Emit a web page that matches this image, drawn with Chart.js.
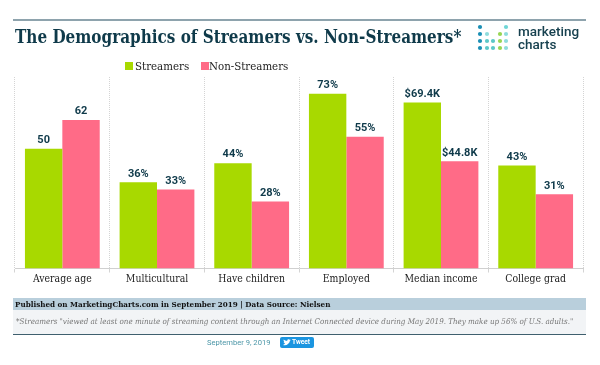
<!DOCTYPE html>
<html>
<head>
<meta charset="utf-8">
<script src="https://cdn.jsdelivr.net/npm/chart.js@4/dist/chart.umd.min.js"></script>
<style>
  body { margin: 0; background: #fff; width: 600px; height: 365px; overflow: hidden; position: relative; font-family: "DejaVu Serif Condensed", serif; }
  .abs { position: absolute; white-space: nowrap; }
  #chart { position: absolute; left: 0; top: 0; }
  #rule { left: 13px; top: 19px; width: 573px; height: 2px; background: #8ea3ad; }
  #title { left: 15px; top: 26px; font: bold 18px "DejaVu Serif Condensed", serif; color: #0f3a4a; transform: scaleX(.94); transform-origin: left; }
  #brand { left: 518px; top: 25px; font: 500 13.5px/13px Roboto, sans-serif; color: #17414f; white-space: pre; }
  .key { top: 59px; font: 11.4px "DejaVu Serif Condensed", serif; color: #222; }
  .swatch { width: 8px; height: 8px; top: 62px; }
  #source { left: 13px; top: 298px; width: 571px; height: 12px; padding-left: 2px; background: #b9cfdc; font: bold 8px/12px "DejaVu Serif Condensed", serif; color: #111; }
  #noteBox { left: 13px; top: 310px; width: 573px; height: 24px; background: #f2f4f6; }
  #note { left: 16px; top: 317px; font: italic 7.95px "DejaVu Serif Condensed", serif; color: #777; }
  #lineEnd { left: 13px; top: 334px; width: 573px; height: 1px; background: #3f5f6e; }
  #date { left: 207px; top: 338px; font: 7.6px Roboto, sans-serif; color: #4d97a8; }
  #tweet { left: 280px; top: 337px; width: 34px; height: 11px; border-radius: 2px; background: #1b95e0; color: #fff; font: bold 6.5px/11px Roboto, sans-serif; text-indent: 8px; text-align: center; }
  #bird { left: 283px; top: 339px; }
</style>
</head>
<body>
<canvas id="chart" width="600" height="365"></canvas>
<div class="abs" id="rule"></div>
<div class="abs" id="title">The Demographics of Streamers vs. Non-Streamers*</div>
<svg class="abs" id="dots" style="left:0;top:0" width="600" height="60"></svg>
<div class="abs" id="brand">marketing
charts</div>
<div class="abs swatch" style="left:125px;background:#a8d900"></div>
<div class="abs key" style="left:135px">Streamers</div>
<div class="abs swatch" style="left:201px;background:#ff6b87"></div>
<div class="abs key" style="left:209px">Non-Streamers</div>
<div class="abs" id="noteBox"></div>
<div class="abs" id="source">Published on MarketingCharts.com in September 2019 | Data Source: Nielsen</div>
<div class="abs" id="note">*Streamers "viewed at least one minute of streaming content through an Internet Connected device during May 2019. They make up 56% of U.S. adults."</div>
<div class="abs" id="lineEnd"></div>
<div class="abs" id="date">September 9, 2019</div>
<div class="abs" id="tweet">Tweet</div>
<svg class="abs" id="bird" width="8" height="7" viewBox="0 0 8 7"><path d="M0 6 Q3 7 5 5 Q7 3 7 1.5 L8 1 L7 .8 Q6 0 5 .3 Q4 .8 4.2 2 Q2 2 .6 .6 Q.3 2 1.2 3 L.5 3 Q1 4 2 4.3 Q1.5 5.4 0 6Z" fill="#fff"/></svg>

<script>
var categories = ['Average age', 'Multicultural', 'Have children', 'Employed', 'Median income', 'College grad'];
var streamers = [50, 36, 44, 73, 69.4, 43];
var nonStreamers = [62, 33, 28, 55, 44.8, 31];
var streamersLabels = ['50', '36%', '44%', '73%', '$69.4K', '43%'];
var nonStreamersLabels = ['62', '33%', '28%', '55%', '$44.8K', '31%'];

// logo dots: x, y, colour
var logoDots = [
  [480, 27, '#1b8fb5'], [506, 27, '#6fd6d6'],
  [480, 34, '#1b8fb5'], [487, 34, '#8fdcdc'], [500, 34, '#98d654'], [506, 34, '#8fdcdc'],
  [480, 41, '#1b8fb5'], [487, 41, '#5cc8c8'], [493, 41, '#5cc8c8'], [500, 41, '#98d654'], [506, 41, '#8fdcdc'],
  [480, 48, '#1b8fb5'], [487, 48, '#5cc8c8'], [493, 48, '#5cc8c8'], [500, 48, '#98d654'], [506, 48, '#8fdcdc']
];
var svg = document.getElementById('dots');
logoDots.forEach(function (d) {
  var c = document.createElementNS('http://www.w3.org/2000/svg', 'circle');
  c.setAttribute('cx', d[0]);
  c.setAttribute('cy', d[1]);
  c.setAttribute('r', 2.1);
  c.setAttribute('fill', d[2]);
  svg.appendChild(c);
});

var valueLabels = {
  id: 'valueLabels',
  afterDatasetsDraw: function (chart) {
    var ctx = chart.ctx;
    var texts = [streamersLabels, nonStreamersLabels];
    ctx.save();
    ctx.font = 'bold 11px Roboto, sans-serif';
    ctx.fillStyle = '#0f3a4a';
    ctx.textAlign = 'center';
    ctx.textBaseline = 'bottom';
    chart.data.datasets.forEach(function (ds, i) {
      chart.getDatasetMeta(i).data.forEach(function (bar, j) {
        ctx.fillText(texts[i][j], bar.x, bar.y - 3);
      });
    });
    ctx.restore();
  }
};

new Chart(document.getElementById('chart').getContext('2d'), {
  type: 'bar',
  data: {
    labels: categories,
    datasets: [
      { label: 'Streamers', data: streamers, backgroundColor: '#a8d900' },
      { label: 'Non-Streamers', data: nonStreamers, backgroundColor: '#ff6b87' }
    ]
  },
  options: {
    responsive: false,
    animation: false,
    categoryPercentage: 0.79,
    barPercentage: 1,
    layout: { padding: { left: 15, right: 17, top: 77, bottom: 78 } },
    plugins: { legend: { display: false }, tooltip: { enabled: false } },
    scales: {
      x: {
        grid: { color: '#d4d4d4', tickLength: 4 },
        border: { color: '#d0d0d0', dash: [1, 1] },
        ticks: { color: '#222', font: { family: '"DejaVu Serif Condensed"', size: 10.4 }, padding: 1, maxRotation: 0 }
      },
      y: { display: false, min: 0, max: 80 }
    }
  },
  plugins: [valueLabels]
});
</script>
</body>
</html>
